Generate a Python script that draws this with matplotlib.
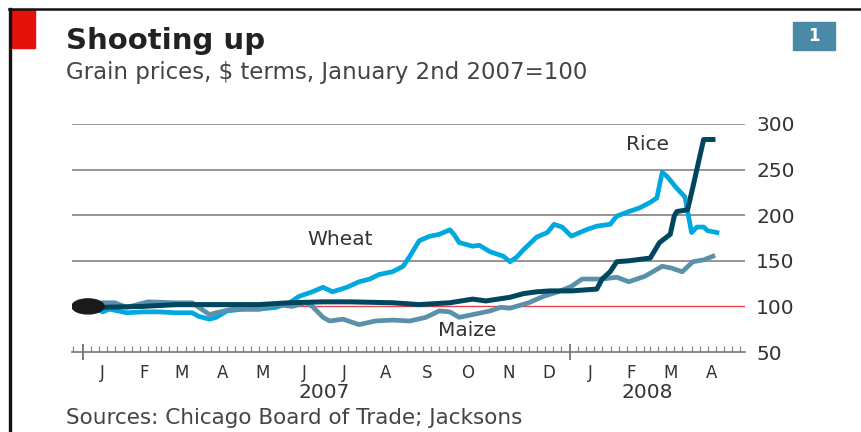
import matplotlib
matplotlib.use("Agg")
import matplotlib.pyplot as plt
import matplotlib.dates as mdates
import matplotlib.patches as mpatches
import matplotlib.transforms as mtransforms
from matplotlib.lines import Line2D
import pandas as pd

# ---- data (Jan 2nd 2007 = 100) ----
wheat_dates = [
    "2007-01-02", "2007-01-06", "2007-01-11", "2007-01-16", "2007-01-21", "2007-02-03",
    "2007-02-15", "2007-02-27", "2007-03-12", "2007-03-24", "2007-03-29", "2007-04-06",
    "2007-04-11", "2007-04-19", "2007-05-01", "2007-05-13", "2007-05-26", "2007-06-05",
    "2007-06-12", "2007-06-22", "2007-06-30", "2007-07-07", "2007-07-18", "2007-07-27",
    "2007-08-04", "2007-08-11", "2007-08-21", "2007-08-29", "2007-09-03", "2007-09-10",
    "2007-09-18", "2007-09-25", "2007-10-03", "2007-10-06", "2007-10-10", "2007-10-20",
    "2007-10-25", "2007-11-02", "2007-11-12", "2007-11-17", "2007-11-22", "2007-11-27",
    "2007-12-07", "2007-12-15", "2007-12-20", "2007-12-26", "2008-01-02", "2008-01-13",
    "2008-01-21", "2008-01-31", "2008-02-05", "2008-02-14", "2008-02-22", "2008-03-01",
    "2008-03-06", "2008-03-10", "2008-03-14", "2008-03-20", "2008-03-27", "2008-04-01",
    "2008-04-05", "2008-04-10", "2008-04-13", "2008-04-20",
]
wheat_values = [
    100, 95, 97, 94, 97, 93,
    94, 94, 93, 93, 89, 86,
    88, 95, 97, 97, 99, 104,
    111, 116, 121, 116, 121, 127,
    130, 135, 138, 144, 155, 172,
    177, 179, 184, 179, 170, 166,
    167, 160, 155, 149, 154, 162,
    176, 181, 190, 187, 177, 184,
    188, 190, 199, 204, 208, 214,
    219, 247, 242, 231, 220, 181,
    187, 187, 183, 181,
]

rice_dates = [
    "2007-01-02", "2007-01-16", "2007-02-15", "2007-03-12", "2007-04-06", "2007-05-13",
    "2007-06-05", "2007-06-30", "2007-07-20", "2007-08-21", "2007-09-10", "2007-10-03",
    "2007-10-20", "2007-10-30", "2007-11-17", "2007-11-27", "2007-12-07", "2007-12-17",
    "2008-01-02", "2008-01-21", "2008-01-25", "2008-01-31", "2008-02-05", "2008-02-14",
    "2008-03-01", "2008-03-08", "2008-03-16", "2008-03-19", "2008-03-21", "2008-03-29",
    "2008-04-02", "2008-04-10", "2008-04-17",
]
rice_values = [
    100, 99, 100, 102, 102, 102,
    104, 105, 105, 104, 102, 104,
    108, 106, 110, 114, 116, 117,
    117, 119, 130, 138, 149, 150,
    153, 170, 179, 199, 204, 206,
    231, 283, 283,
]

maize_dates = [
    "2007-01-02", "2007-01-16", "2007-01-25", "2007-02-03", "2007-02-19", "2007-03-10",
    "2007-03-24", "2007-03-31", "2007-04-06", "2007-04-11", "2007-04-23", "2007-05-13",
    "2007-05-26", "2007-06-07", "2007-06-17", "2007-06-22", "2007-06-30", "2007-07-05",
    "2007-07-15", "2007-07-27", "2007-08-08", "2007-08-21", "2007-09-03", "2007-09-15",
    "2007-09-25", "2007-10-03", "2007-10-10", "2007-10-20", "2007-11-02", "2007-11-10",
    "2007-11-17", "2007-12-01", "2007-12-12", "2007-12-23", "2008-01-02", "2008-01-10",
    "2008-01-25", "2008-02-05", "2008-02-14", "2008-02-26", "2008-03-10", "2008-03-17",
    "2008-03-25", "2008-04-02", "2008-04-10", "2008-04-17",
]
maize_values = [
    100, 104, 104, 99, 105, 104,
    104, 97, 91, 93, 97, 97,
    102, 100, 104, 100, 88, 84,
    86, 80, 84, 85, 84, 88,
    95, 94, 88, 91, 95, 99,
    98, 104, 111, 116, 122, 130,
    130, 132, 127, 133, 144, 142,
    138, 149, 151, 155,
]

y_ticks = [50, 100, 150, 200, 250, 300]
month_labels = ["J", "F", "M", "A", "M", "J", "J", "A", "S", "O", "N", "D", "J", "F", "M", "A"]
year_labels = ["2007", "2008"]

# ---- style ----
WHEAT = "#00a8e0"
RICE = "#00465f"
MAIZE = "#5b90aa"
GRID = "#8c8c8c"
TEXT = "#333333"
RED = "#e3120b"
BOX = "#4a8aa6"

W, H = 861, 432
fig = plt.figure(figsize=(W / 100, H / 100), dpi=100)
fig.patch.set_facecolor("white")


def fx(x):
    return x / W


def fy(y):
    return 1 - y / H


ax = fig.add_axes([fx(72), fy(352), fx(745) - fx(72), fy(124) - fy(352)])
ax.set_facecolor("white")

wheat = pd.Series(wheat_values, index=pd.to_datetime(wheat_dates))
rice = pd.Series(rice_values, index=pd.to_datetime(rice_dates))
maize = pd.Series(maize_values, index=pd.to_datetime(maize_dates))

for v in y_ticks[2:]:
    ax.axhline(v, color=GRID, lw=1.3, zorder=1)
ax.axhline(100, color="#e8434a", lw=1.0, zorder=1)

ax.plot(wheat.index, wheat.values, color=WHEAT, lw=3.4, zorder=3, solid_joinstyle="round")
ax.plot(maize.index, maize.values, color=MAIZE, lw=3.4, zorder=4, solid_joinstyle="round")
ax.plot(rice.index, rice.values, color=RICE, lw=3.6, zorder=5, solid_joinstyle="round")

# start dot
x0 = mdates.date2num(wheat.index[0])
ax.add_patch(mpatches.Ellipse((x0 + 3, 100), width=24, height=16.5,
                              color="#1a1a1a", zorder=6))

ax.set_xlim(pd.Timestamp("2006-12-24"), pd.Timestamp("2008-05-11"))
ax.set_ylim(50, 300)

for side in ["top", "left", "right"]:
    ax.spines[side].set_visible(False)
ax.spines["bottom"].set_color("#777777")
ax.spines["bottom"].set_linewidth(1.2)

ax.yaxis.tick_right()
ax.set_yticks(y_ticks)
ax.tick_params(axis="y", length=0, pad=8, labelsize=14.5, labelcolor=TEXT)

ax.xaxis.set_major_locator(mdates.YearLocator())
ax.xaxis.set_minor_locator(mdates.DayLocator(bymonthday=[1, 7, 13, 19, 25]))
ax.xaxis.set_major_formatter(plt.NullFormatter())
ax.tick_params(axis="x", which="major", direction="inout", length=12, width=1.2, color="#666666")
ax.tick_params(axis="x", which="minor", direction="in", length=4, width=0.9, color="#888888")

# month and year labels
trans = mtransforms.blended_transform_factory(ax.transData, fig.transFigure)
month_mid = pd.date_range("2007-01-01", periods=len(month_labels), freq="MS") + pd.Timedelta(days=15)
for d, lab in zip(month_mid, month_labels):
    ax.text(d, fy(373), lab, transform=trans, ha="center", va="center",
            fontsize=12, color=TEXT)
for d, lab in zip([pd.Timestamp("2007-07-01"), pd.Timestamp("2008-02-28")], year_labels):
    ax.text(d, fy(393), lab, transform=trans, ha="center", va="center",
            fontsize=14.5, color=TEXT)

# series labels
ax.text(pd.Timestamp("2007-06-18"), 173, "Wheat", fontsize=14.5, color=TEXT, ha="left", va="center")
ax.text(pd.Timestamp("2008-02-12"), 278, "Rice", fontsize=14.5, color=TEXT, ha="left", va="center")
ax.text(pd.Timestamp("2007-09-24"), 74, "Maize", fontsize=14.5, color=TEXT, ha="left", va="center")

# header, footer, frame
fig.text(fx(66), fy(41), "Shooting up", fontsize=21, fontweight="bold",
         color="#222222", ha="left", va="center")
fig.text(fx(66), fy(73), "Grain prices, $ terms, January 2nd 2007=100",
         fontsize=16.5, color="#444444", ha="left", va="center")
fig.text(fx(66), fy(418), "Sources: Chicago Board of Trade; Jacksons",
         fontsize=15.5, color="#444444", ha="left", va="center")

fig.add_artist(mpatches.Rectangle((fx(10), fy(48)), fx(25), fy(10) - fy(48),
                                  color=RED, transform=fig.transFigure))
fig.add_artist(mpatches.Rectangle((fx(793), fy(50)), fx(42), fy(22) - fy(50),
                                  color=BOX, transform=fig.transFigure))
fig.text(fx(814), fy(36), "1", fontsize=12, fontweight="bold", color="white",
         ha="center", va="center")
fig.add_artist(Line2D([fx(9), 1], [fy(9), fy(9)], color="#111111", lw=1.8,
                      transform=fig.transFigure))
fig.add_artist(Line2D([fx(10), fx(10)], [fy(9), 0], color="#111111", lw=2.4,
                      transform=fig.transFigure))

fig.savefig("out.png", dpi=100, facecolor="white")
